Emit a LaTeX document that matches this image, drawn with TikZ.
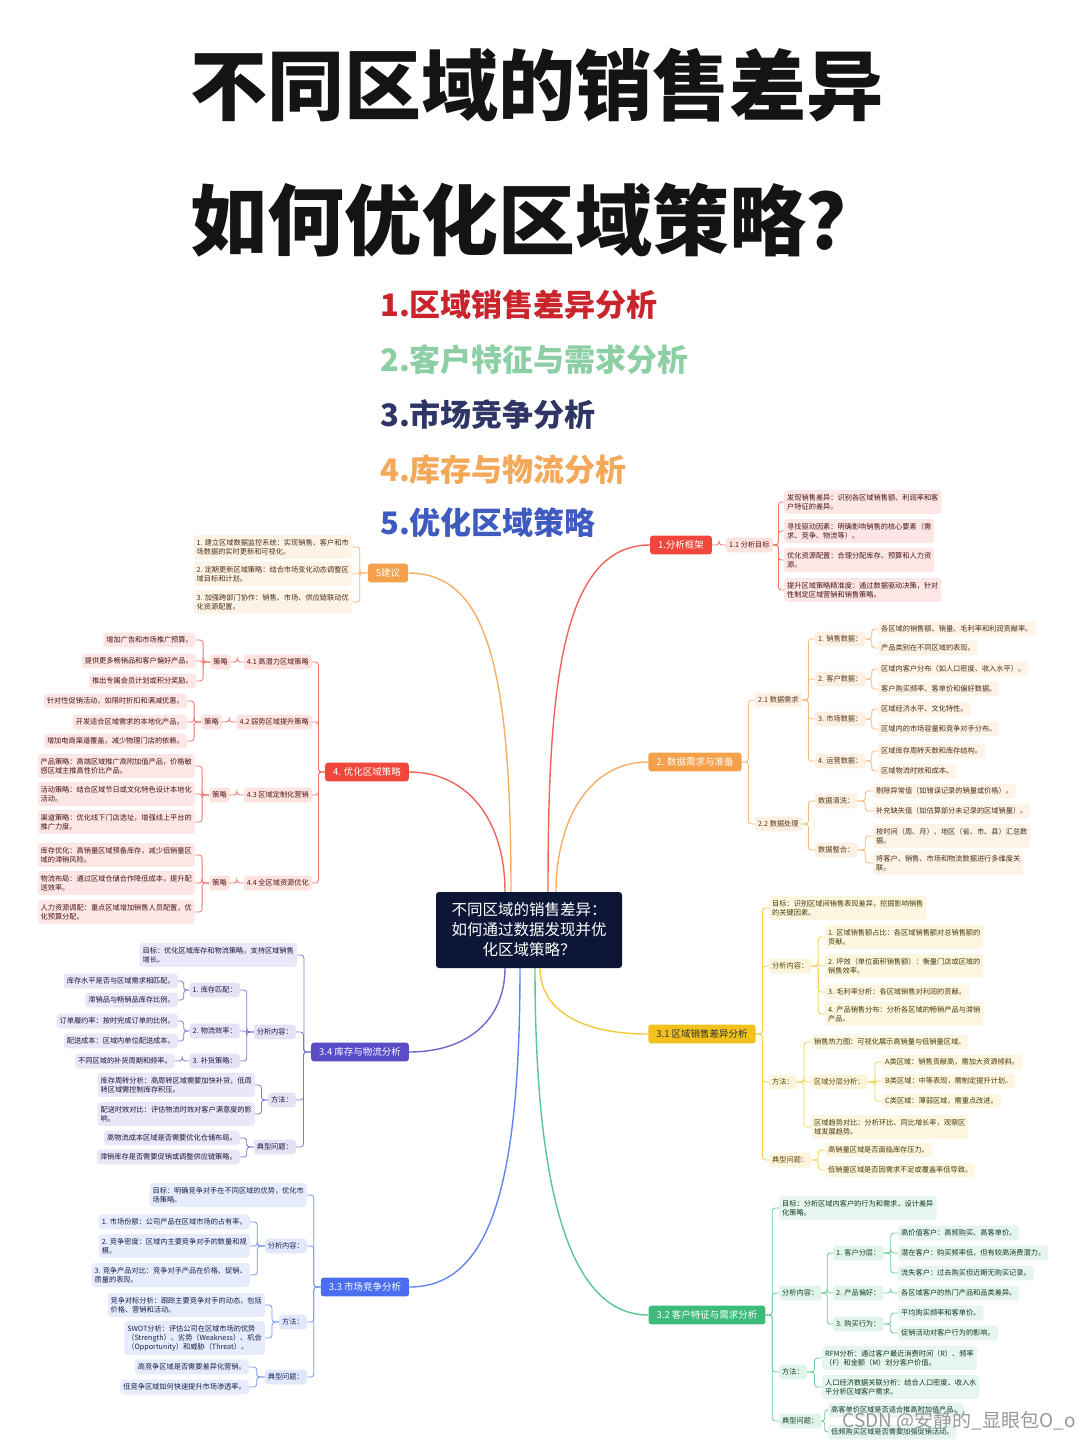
\documentclass[tikz,border=0pt]{standalone}
\usepackage{fontspec}
\setmainfont{Noto Sans CJK SC}
\usetikzlibrary{calc}
\definecolor{cRed}{HTML}{F0473D}
\definecolor{cOrange}{HTML}{F5A04A}
\definecolor{cYellow}{HTML}{F2C11B}
\definecolor{cGreen}{HTML}{3CBB7B}
\definecolor{cPurple}{HTML}{5A4BC6}
\definecolor{cBlue}{HTML}{4A6EEF}
\definecolor{cNavy}{HTML}{0E1638}
\definecolor{tRed}{HTML}{C9252D}
\definecolor{tGreen}{HTML}{8CCFA5}
\definecolor{tNavy}{HTML}{2F3565}
\definecolor{tOrange}{HTML}{F4A95A}
\definecolor{tBlue}{HTML}{3F5BC2}
\tikzset{
  br/.style={fill=#1, text=white, rounded corners=3pt, inner xsep=8pt, inner ysep=5pt, font=\fontsize{9.5}{11}\selectfont},
  sb/.style={fill=#1!16, text=#1!35!black, rounded corners=3pt, inner xsep=3pt, inner ysep=4pt, font=\fontsize{7.2}{9}\selectfont},
  lf/.style={fill=#1!13, text=#1!30!black, rounded corners=3pt, inner xsep=3pt, inner ysep=4pt, align=left, font=\fontsize{7.2}{9}\selectfont},
  ed/.style={draw=#1!75, line width=0.8pt, rounded corners=3pt},
  mn/.style={draw=#1!85, line width=1.4pt},
  lst/.style={anchor=west, inner sep=0pt, font=\fontsize{31}{34}\selectfont\bfseries},
  ttl/.style={anchor=west, inner sep=0pt, font=\fontsize{77}{80}\selectfont\bfseries, text=black!92},
}
\newcommand\lkR[3]{\draw[ed=#1] (#2.east) -| ($(#2.east)!.5!(#3.west)$) |- (#3.west);}
\newcommand\lkL[3]{\draw[ed=#1] (#2.west) -| ($(#2.west)!.5!(#3.east)$) |- (#3.east);}
\begin{document}
\begin{tikzpicture}[x=1pt,y=-1pt]
\useasboundingbox[fill=white] (0,0) rectangle (1080,1440);

% ---------- title ----------
\node[ttl] (t1) at (190,85) {不同区域的销售差异};
\node[ttl] (t2) at (190,220) {如何优化区域策略？};
\node[lst,text=tRed] (i1) at (380,305) {1.区域销售差异分析};
\node[lst,text=tGreen] (i2) at (380,360) {2.客户特征与需求分析};
\node[lst,text=tNavy] (i3) at (380,415) {3.市场竞争分析};
\node[lst,text=tOrange] (i4) at (380,470) {4.库存与物流分析};
\node[lst,text=tBlue] (i5) at (380,523) {5.优化区域策略};

% ---------- center ----------
\node[fill=cNavy, text=white, rounded corners=3pt, minimum width=186pt, minimum height=76pt, align=center, font=\fontsize{15.5}{20}\selectfont] (ctr) at (529,930) {不同区域的销售差异：\\如何通过数据发现并优\\化区域策略？};

% ---------- branch 1 ----------
\node[br=cRed] (b1) at (681,545) {1.分析框架};
\node[sb=cRed,anchor=west] (s11) at (726,545) {1.1 分析目标};
\node[lf=cRed,anchor=west] (l11) at (784,502) {发现销售差异：识别各区域销售额、利润率和客\\户特征的差异。};
\node[lf=cRed,anchor=west] (l12) at (784,531) {寻找驱动因素：明确影响销售的核心要素（需\\求、竞争、物流等）。};
\node[lf=cRed,anchor=west] (l13) at (784,560) {优化资源配置：合理分配库存、预算和人力资\\源。};
\node[lf=cRed,anchor=west] (l14) at (784,590) {提升区域策略精准度：通过数据驱动决策，针对\\性制定区域营销和销售策略。};
\lkR{cRed}{b1}{s11}
\foreach \n in {l11,l12,l13,l14} {\lkR{cRed}{s11}{\n}}

% ---------- branch 2 ----------
\node[br=cOrange] (b2) at (695,762) {2. 数据需求与准备};
\node[sb=cOrange,anchor=west] (s21) at (755,700) {2.1 数据需求};
\node[sb=cOrange,anchor=west] (s22) at (755,824) {2.2 数据处理};
\node[sb=cOrange,anchor=west] (d1) at (815,639) {1. 销售数据：};
\node[sb=cOrange,anchor=west] (d2) at (815,679) {2. 客户数据：};
\node[sb=cOrange,anchor=west] (d3) at (815,719) {3. 市场数据：};
\node[sb=cOrange,anchor=west] (d4) at (815,761) {4. 运营数据：};
\node[lf=cOrange,anchor=west] (d1a) at (878,629) {各区域的销售额、销量、毛利率和利润贡献率。};
\node[lf=cOrange,anchor=west] (d1b) at (878,648) {产品类别在不同区域的表现。};
\node[lf=cOrange,anchor=west] (d2a) at (878,669) {区域内客户分布（如人口密度、收入水平）。};
\node[lf=cOrange,anchor=west] (d2b) at (878,689) {客户购买频率、客单价和偏好数据。};
\node[lf=cOrange,anchor=west] (d3a) at (878,709) {区域经济水平、文化特性。};
\node[lf=cOrange,anchor=west] (d3b) at (878,729) {区域内的市场容量和竞争对手分布。};
\node[lf=cOrange,anchor=west] (d4a) at (878,751) {区域库存周转天数和库存结构。};
\node[lf=cOrange,anchor=west] (d4b) at (878,771) {区域物流时效和成本。};
\node[sb=cOrange,anchor=west] (e1) at (815,801) {数据清洗：};
\node[sb=cOrange,anchor=west] (e2) at (815,850) {数据整合：};
\node[lf=cOrange,anchor=west] (e1a) at (873,791) {剔除异常值（如错误记录的销量或价格）。};
\node[lf=cOrange,anchor=west] (e1b) at (873,811) {补充缺失值（如估算部分未记录的区域销量）。};
\node[lf=cOrange,anchor=west] (e2a) at (873,836) {按时间（周、月）、地区（省、市、县）汇总数\\据。};
\node[lf=cOrange,anchor=west] (e2b) at (873,863) {将客户、销售、市场和物流数据进行多维度关\\联。};
\lkR{cOrange}{b2}{s21}
\lkR{cOrange}{b2}{s22}
\foreach \n in {d1,d2,d3,d4} {\lkR{cOrange}{s21}{\n}}
\lkR{cOrange}{d1}{d1a} \lkR{cOrange}{d1}{d1b}
\lkR{cOrange}{d2}{d2a} \lkR{cOrange}{d2}{d2b}
\lkR{cOrange}{d3}{d3a} \lkR{cOrange}{d3}{d3b}
\lkR{cOrange}{d4}{d4a} \lkR{cOrange}{d4}{d4b}
\lkR{cOrange}{s22}{e1} \lkR{cOrange}{s22}{e2}
\lkR{cOrange}{e1}{e1a} \lkR{cOrange}{e1}{e1b}
\lkR{cOrange}{e2}{e2a} \lkR{cOrange}{e2}{e2b}

% ---------- branch 3.1 ----------
\node[br=cYellow,text=black!80] (b31) at (702,1034) {3.1 区域销售差异分析};
\node[lf=cYellow,anchor=west] (g31) at (769,908) {目标：识别区域间销售表现差异，挖掘影响销售\\的关键因素。};
\node[sb=cYellow,anchor=west] (a31) at (769,966) {分析内容：};
\node[sb=cYellow,anchor=west] (m31) at (769,1082) {方法：};
\node[sb=cYellow,anchor=west] (q31) at (769,1160) {典型问题：};
\node[lf=cYellow,anchor=west] (a31a) at (825,937) {1. 区域销售额占比：各区域销售额对总销售额的\\贡献。};
\node[lf=cYellow,anchor=west] (a31b) at (825,966) {2. 坪效（单位面积销售额）：衡量门店或区域的\\销售效率。};
\node[lf=cYellow,anchor=west] (a31c) at (825,992) {3. 毛利率分析：各区域销售对利润的贡献。};
\node[lf=cYellow,anchor=west] (a31d) at (825,1014) {4. 产品销售分布：分析各区域的畅销产品与滞销\\产品。};
\node[lf=cYellow,anchor=west] (h1) at (811,1042) {销售热力图：可视化展示高销量与低销量区域。};
\node[sb=cYellow,anchor=west] (h2) at (811,1082) {区域分层分析：};
\node[lf=cYellow,anchor=west] (h3) at (811,1127) {区域趋势对比：分析环比、同比增长率，观察区\\域发展趋势。};
\node[lf=cYellow,anchor=west] (h2a) at (882,1062) {A类区域：销售贡献高，需加大资源倾斜。};
\node[lf=cYellow,anchor=west] (h2b) at (882,1081) {B类区域：中等表现，需制定提升计划。};
\node[lf=cYellow,anchor=west] (h2c) at (882,1101) {C类区域：薄弱区域，需重点改进。};
\node[lf=cYellow,anchor=west] (q31a) at (825,1150) {高销量区域是否面临库存压力。};
\node[lf=cYellow,anchor=west] (q31b) at (825,1170) {低销量区域是否因需求不足或覆盖率低导致。};
\foreach \n in {g31,a31,m31,q31} {\lkR{cYellow}{b31}{\n}}
\foreach \n in {a31a,a31b,a31c,a31d} {\lkR{cYellow}{a31}{\n}}
\foreach \n in {h1,h2,h3} {\lkR{cYellow}{m31}{\n}}
\foreach \n in {h2a,h2b,h2c} {\lkR{cYellow}{h2}{\n}}
\foreach \n in {q31a,q31b} {\lkR{cYellow}{q31}{\n}}

% ---------- branch 3.2 ----------
\node[br=cGreen] (b32) at (707,1315) {3.2 客户特征与需求分析};
\node[lf=cGreen,anchor=west] (g32) at (779,1208) {目标：分析区域内客户的行为和需求，设计差异\\化策略。};
\node[sb=cGreen,anchor=west] (a32) at (779,1293) {分析内容：};
\node[sb=cGreen,anchor=west] (m32) at (779,1372) {方法：};
\node[sb=cGreen,anchor=west] (q32) at (779,1421) {典型问题：};
\node[sb=cGreen,anchor=west] (c1) at (833,1253) {1. 客户分层：};
\node[sb=cGreen,anchor=west] (c2) at (833,1293) {2. 产品偏好：};
\node[sb=cGreen,anchor=west] (c3) at (833,1324) {3. 购买行为：};
\node[lf=cGreen,anchor=west] (c1a) at (898,1233) {高价值客户：高频购买、高客单价。};
\node[lf=cGreen,anchor=west] (c1b) at (898,1253) {潜在客户：购买频率低，但有较高消费潜力。};
\node[lf=cGreen,anchor=west] (c1c) at (898,1273) {流失客户：过去购买但近期无购买记录。};
\node[lf=cGreen,anchor=west] (c2a) at (898,1293) {各区域客户的热门产品和品类差异。};
\node[lf=cGreen,anchor=west] (c3a) at (898,1313) {平均购买频率和客单价。};
\node[lf=cGreen,anchor=west] (c3b) at (898,1333) {促销活动对客户行为的影响。};
\node[lf=cGreen,anchor=west] (m32a) at (822,1358) {RFM分析：通过客户最近消费时间（R）、频率\\（F）和金额（M）划分客户价值。};
\node[lf=cGreen,anchor=west] (m32b) at (822,1387) {人口经济数据关联分析：结合人口密度、收入水\\平分析区域客户需求。};
\node[lf=cGreen,anchor=west] (q32a) at (828,1410) {高客单价区域是否适合推高附加值产品。};
\node[lf=cGreen,anchor=west] (q32b) at (828,1432) {低频购买区域是否需要加强促销活动。};
\foreach \n in {g32,a32,m32,q32} {\lkR{cGreen}{b32}{\n}}
\foreach \n in {c1,c2,c3} {\lkR{cGreen}{a32}{\n}}
\foreach \n in {c1a,c1b,c1c} {\lkR{cGreen}{c1}{\n}}
\lkR{cGreen}{c2}{c2a}
\foreach \n in {c3a,c3b} {\lkR{cGreen}{c3}{\n}}
\foreach \n in {m32a,m32b} {\lkR{cGreen}{m32}{\n}}
\foreach \n in {q32a,q32b} {\lkR{cGreen}{q32}{\n}}

% ---------- branch 5 ----------
\node[br=cOrange] (b5) at (388,573) {5建议};
\node[lf=cOrange,anchor=east] (k1) at (352,547) {1. 建立区域数据监控系统：实现销售、客户和市\\场数据的实时更新和可视化。};
\node[lf=cOrange,anchor=east] (k2) at (352,574) {2. 定期更新区域策略：结合市场变化动态调整区\\域目标和计划。};
\node[lf=cOrange,anchor=east] (k3) at (352,602) {3. 加强跨部门协作：销售、市场、供应链联动优\\化资源配置。};
\foreach \n in {k1,k2,k3} {\lkL{cOrange}{b5}{\n}}

% ---------- branch 4 ----------
\node[br=cRed] (b4) at (367,772) {4. 优化区域策略};
\node[sb=cRed,anchor=east] (p1) at (312,662) {4.1 高潜力区域策略};
\node[sb=cRed,anchor=east] (p2) at (312,722) {4.2 弱势区域提升策略};
\node[sb=cRed,anchor=east] (p3) at (312,795) {4.3 区域定制化营销};
\node[sb=cRed,anchor=east] (p4) at (312,883) {4.4 全区域资源优化};
\node[sb=cRed,anchor=east] (z1) at (231,662) {策略};
\node[sb=cRed,anchor=east] (z2) at (222,722) {策略};
\node[sb=cRed,anchor=east] (z3) at (230,795) {策略};
\node[sb=cRed,anchor=east] (z4) at (230,883) {策略};
\node[lf=cRed,anchor=east] (z1a) at (196,640) {增加广告和市场推广预算。};
\node[lf=cRed,anchor=east] (z1b) at (196,661) {提供更多畅销品和客户偏好产品。};
\node[lf=cRed,anchor=east] (z1c) at (196,681) {推出专属会员计划或积分奖励。};
\node[lf=cRed,anchor=east] (z2a) at (187,701) {针对性促销活动，如限时折扣和满减优惠。};
\node[lf=cRed,anchor=east] (z2b) at (187,722) {开发适合区域需求的本地化产品。};
\node[lf=cRed,anchor=east] (z2c) at (187,741) {增加电商渠道覆盖，减少物理门店的依赖。};
\node[lf=cRed,anchor=east] (z3a) at (195,766) {产品策略：高端区域推广高附加值产品，价格敏\\感区域主推高性价比产品。};
\node[lf=cRed,anchor=east] (z3b) at (195,794) {活动策略：结合区域节日或文化特色设计本地化\\活动。};
\node[lf=cRed,anchor=east] (z3c) at (195,822) {渠道策略：优化线下门店选址，增强线上平台的\\推广力度。};
\node[lf=cRed,anchor=east] (z4a) at (195,855) {库存优化：高销量区域预备库存，减少低销量区\\域的滞销风险。};
\node[lf=cRed,anchor=east] (z4b) at (195,883) {物流布局：通过区域仓储合作降低成本，提升配\\送效率。};
\node[lf=cRed,anchor=east] (z4c) at (195,912) {人力资源调配：重点区域增加销售人员配置，优\\化预算分配。};
\foreach \n in {p1,p2,p3,p4} {\lkL{cRed}{b4}{\n}}
\lkL{cRed}{p1}{z1} \lkL{cRed}{p2}{z2} \lkL{cRed}{p3}{z3} \lkL{cRed}{p4}{z4}
\foreach \n in {z1a,z1b,z1c} {\lkL{cRed}{z1}{\n}}
\foreach \n in {z2a,z2b,z2c} {\lkL{cRed}{z2}{\n}}
\foreach \n in {z3a,z3b,z3c} {\lkL{cRed}{z3}{\n}}
\foreach \n in {z4a,z4b,z4c} {\lkL{cRed}{z4}{\n}}

% ---------- branch 3.4 ----------
\node[br=cPurple] (b34) at (360,1052) {3.4 库存与物流分析};
\node[lf=cPurple,anchor=east] (g34) at (297,955) {目标：优化区域库存和物流策略，支持区域销售\\增长。};
\node[sb=cPurple,anchor=east] (a34) at (296,1032) {分析内容：};
\node[sb=cPurple,anchor=east] (m34) at (296,1100) {方法：};
\node[sb=cPurple,anchor=east] (q34) at (296,1147) {典型问题：};
\node[sb=cPurple,anchor=east] (r1) at (240,990) {1. 库存匹配：};
\node[sb=cPurple,anchor=east] (r2) at (240,1031) {2. 物流效率：};
\node[sb=cPurple,anchor=east] (r3) at (240,1061) {3. 补货策略：};
\node[lf=cPurple,anchor=east] (r1a) at (178,981) {库存水平是否与区域需求相匹配。};
\node[lf=cPurple,anchor=east] (r1b) at (178,1000) {滞销品与畅销品库存比例。};
\node[lf=cPurple,anchor=east] (r2a) at (178,1021) {订单履约率：按时完成订单的比例。};
\node[lf=cPurple,anchor=east] (r2b) at (178,1041) {配送成本：区域内单位配送成本。};
\node[lf=cPurple,anchor=east] (r3a) at (175,1061) {不同区域的补货周期和频率。};
\node[lf=cPurple,anchor=east] (m34a) at (255,1085) {库存周转分析：高周转区域需要加快补货，低周\\转区域需控制库存积压。};
\node[lf=cPurple,anchor=east] (m34b) at (255,1114) {配送时效对比：评估物流时效对客户满意度的影\\响。};
\node[lf=cPurple,anchor=east] (q34a) at (240,1138) {高物流成本区域是否需要优化仓储布局。};
\node[lf=cPurple,anchor=east] (q34b) at (240,1157) {滞销库存是否需要促销或调整供应链策略。};
\foreach \n in {g34,a34,m34,q34} {\lkL{cPurple}{b34}{\n}}
\foreach \n in {r1,r2,r3} {\lkL{cPurple}{a34}{\n}}
\foreach \n in {r1a,r1b} {\lkL{cPurple}{r1}{\n}}
\foreach \n in {r2a,r2b} {\lkL{cPurple}{r2}{\n}}
\lkL{cPurple}{r3}{r3a}
\foreach \n in {m34a,m34b} {\lkL{cPurple}{m34}{\n}}
\foreach \n in {q34a,q34b} {\lkL{cPurple}{q34}{\n}}

% ---------- branch 3.3 ----------
\node[br=cBlue] (b33) at (365,1287) {3.3 市场竞争分析};
\node[lf=cBlue,anchor=east] (g33) at (307,1195) {目标：明确竞争对手在不同区域的优势，优化市\\场策略。};
\node[sb=cBlue,anchor=east] (a33) at (307,1246) {分析内容：};
\node[sb=cBlue,anchor=east] (m33) at (307,1322) {方法：};
\node[sb=cBlue,anchor=east] (q33) at (307,1377) {典型问题：};
\node[lf=cBlue,anchor=east] (a33a) at (250,1222) {1. 市场份额：公司产品在区域市场的占有率。};
\node[lf=cBlue,anchor=east] (a33b) at (250,1246) {2. 竞争密度：区域内主要竞争对手的数量和规\\模。};
\node[lf=cBlue,anchor=east] (a33c) at (250,1275) {3. 竞争产品对比：竞争对手产品在价格、促销、\\质量的表现。};
\node[lf=cBlue,anchor=east] (m33a) at (265,1305) {竞争对标分析：跟踪主要竞争对手的动态，包括\\价格、营销和活动。};
\node[lf=cBlue,anchor=east] (m33b) at (265,1338) {SWOT分析：评估公司在区域市场的优势\\（Strength）、劣势（Weakness）、机会\\（Opportunity）和威胁（Threat）。};
\node[lf=cBlue,anchor=east] (q33a) at (249,1367) {高竞争区域是否需要差异化营销。};
\node[lf=cBlue,anchor=east] (q33b) at (249,1387) {低竞争区域如何快速提升市场渗透率。};
\foreach \n in {g33,a33,m33,q33} {\lkL{cBlue}{b33}{\n}}
\foreach \n in {a33a,a33b,a33c} {\lkL{cBlue}{a33}{\n}}
\foreach \n in {m33a,m33b} {\lkL{cBlue}{m33}{\n}}
\foreach \n in {q33a,q33b} {\lkL{cBlue}{q33}{\n}}

% ---------- main connectors ----------
\draw[mn=cRed] ([xshift=19pt]ctr.north) .. controls +(0,-200) and +(-90,0) .. (b1.west);
\draw[mn=cOrange] ([xshift=27pt]ctr.north) .. controls +(0,-70) and +(-60,0) .. (b2.west);
\draw[mn=cOrange] ([xshift=-18pt]ctr.north) .. controls +(0,-220) and +(80,0) .. (b5.east);
\draw[mn=cRed] ([xshift=-24pt]ctr.north) .. controls +(0,-70) and +(60,0) .. (b4.east);
\draw[mn=cYellow] ([xshift=11pt]ctr.south) .. controls +(0,40) and +(-70,0) .. (b31.west);
\draw[mn=cGreen] ([xshift=6pt]ctr.south) .. controls +(0,220) and +(-80,0) .. (b32.west);
\draw[mn=cPurple] ([xshift=-24pt]ctr.south) .. controls +(0,50) and +(60,0) .. (b34.east);
\draw[mn=cBlue] ([xshift=-9pt]ctr.south) .. controls +(0,220) and +(80,0) .. (b33.east);

% ---------- watermark ----------
\node[anchor=east, inner sep=0pt, font=\fontsize{19}{20}\selectfont, text=black!40] (wm) at (1076,1421) {CSDN @安静的\_显眼包O\_o};
\end{tikzpicture}
\end{document}
